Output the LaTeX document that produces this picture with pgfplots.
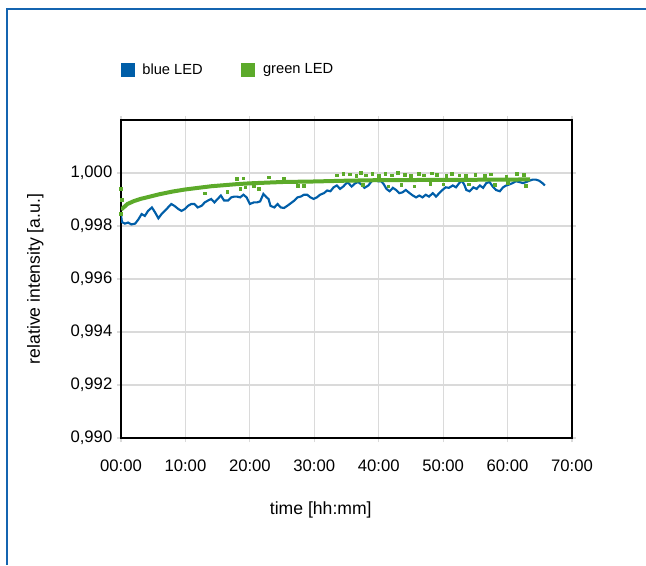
\documentclass[border=0pt]{standalone}
\usepackage{pgfplots}
\pgfplotsset{compat=1.18}
\usepackage{fontspec}
\setmainfont{Liberation Sans}
\definecolor{myblue}{RGB}{0,94,168}
\definecolor{mygreen}{RGB}{92,170,42}
\definecolor{framecol}{RGB}{20,100,176}
\definecolor{gridcol}{RGB}{218,218,218}
\begin{document}
\begin{tikzpicture}
\begin{axis}[
  at={(90.75pt,95.25pt)}, anchor=south west,
  scale only axis, width=338.25pt, height=238.5pt,
  xmin=0, xmax=70, ymin=0.990, ymax=1.002,
  xtick={0,10,20,30,40,50,60,70},
  xticklabels={00:00,10:00,20:00,30:00,40:00,50:00,60:00,70:00},
  ytick={0.990,0.992,0.994,0.996,0.998,1.000},
  scaled y ticks=false,
  yticklabel style={/pgf/number format/.cd, fixed, fixed zerofill, precision=3, use comma},
  /pgf/number format/assume math mode=true,
  tick label style={font=\fontsize{12.5}{14}\selectfont},
  xticklabel style={yshift=-10pt},
  xlabel={time [hh:mm]}, ylabel={relative intensity [a.u.]},
  label style={font=\fontsize{13.2}{16}\selectfont},
  xlabel style={at={(axis description cs:0.443,-0.225)}, anchor=center},
  ylabel style={at={(axis description cs:-0.19,0.5)}, anchor=center},
  grid=major, major grid style={gridcol, line width=0.9pt},
  tick align=outside, major tick length=3pt,
  tick style={gridcol, line width=0.9pt},
  axis line style={black, line width=1.1pt},
  legend style={draw=none, fill=none, at={(axis description cs:-0.01,1.195)}, anchor=north west,
    font=\fontsize{11}{13}\selectfont, legend columns=2,
    /tikz/every odd column/.append style={column sep=3.75pt},
    /tikz/every even column/.append style={column sep=27pt}},
  legend image code/.code={\fill[#1] (0pt,-5.25pt) rectangle (10.5pt,5.25pt);},
]
\addlegendimage{fill=myblue, draw=none}
\addlegendentry{blue LED}
\addlegendimage{fill=mygreen, draw=none}
\addlegendentry{green LED}
% blue LED
\addplot[myblue, line width=1.6pt, forget plot] coordinates {
(0,0.99842) (0.15,0.99815) (0.6,0.99809) (1.1,0.99813) (1.6,0.99806) (2.2,0.99809)
(2.7,0.99825) (3.2,0.99845) (3.7,0.99838) (4.2,0.99857) (4.8,0.99870) (5.3,0.99851)
(5.8,0.99829) (6.3,0.99845) (6.8,0.99857) (7.3,0.99870) (7.8,0.99883) (8.3,0.99876)
(8.9,0.99864) (9.4,0.99857) (9.9,0.99864) (10.4,0.99876) (10.9,0.99883) (11.4,0.99883)
(11.9,0.99870) (12.5,0.99876) (13.0,0.99889) (13.5,0.99896) (14.0,0.99902) (14.5,0.99889)
(15.0,0.99902) (15.5,0.99915) (16.0,0.99896) (16.6,0.99896) (17.1,0.99908) (17.6,0.99911)
(18.0,0.99911) (18.5,0.99908) (19.0,0.99918) (19.5,0.99908) (20.0,0.99883) (20.6,0.99889)
(21.1,0.99889) (21.6,0.99893) (22.1,0.99921) (22.6,0.99908) (22.9,0.99902) (23.2,0.99876)
(23.8,0.99870) (24.3,0.99883) (24.8,0.99870) (25.3,0.99868) (25.8,0.99876) (26.3,0.99885)
(26.9,0.99896) (27.4,0.99908) (27.9,0.99911) (28.4,0.99918) (28.9,0.99918) (29.4,0.99908)
(29.9,0.99902) (30.4,0.99908) (30.9,0.99918) (31.5,0.99924) (32.0,0.99934) (32.5,0.99931)
(33.0,0.99946) (33.5,0.99953) (34.0,0.99940) (34.5,0.99949) (35.0,0.99962) (35.3,0.99962)
(35.8,0.99949) (36.3,0.99960) (36.8,0.99966) (37.3,0.99957) (37.8,0.99944) (38.4,0.99953)
(38.9,0.99969) (39.4,0.99975) (39.9,0.99969) (40.4,0.99969) (40.8,0.99957) (41.2,0.99940)
(41.7,0.99931) (42.2,0.99944) (42.7,0.99936) (43.2,0.99924) (43.7,0.99927) (44.2,0.99936)
(44.8,0.99924) (45.3,0.99915) (45.8,0.99908) (46.3,0.99915) (46.8,0.99908) (47.3,0.99918)
(47.8,0.99911) (48.4,0.99924) (48.9,0.99911) (49.4,0.99924) (49.9,0.99936) (50.4,0.99946)
(50.9,0.99944) (51.5,0.99953) (52.0,0.99946) (52.5,0.99962) (52.9,0.99972) (53.3,0.99955)
(53.6,0.99936) (54.1,0.99931) (54.7,0.99946) (55.2,0.99940) (55.7,0.99953) (56.2,0.99944)
(56.7,0.99962) (57.2,0.99966) (57.7,0.99949) (58.2,0.99936) (58.8,0.99931) (59.3,0.99946)
(59.8,0.99953) (60.3,0.99957) (60.8,0.99962) (61.3,0.99969) (61.8,0.99966) (62.4,0.99962)
(62.9,0.99966) (63.4,0.99971) (63.9,0.99975) (64.4,0.99975) (64.9,0.99971) (65.4,0.99962)
(65.8,0.99953)
};
% green LED main trend
\addplot[mygreen, line width=3pt, forget plot] coordinates {
(0,0.99862) (0.5,0.99872) (1,0.99883) (2,0.99894) (3,0.99902) (4,0.99908) (5,0.99914)
(6,0.99920) (7,0.99925) (8,0.99930) (10,0.99938) (12,0.99944) (14,0.99950) (16,0.99954)
(18,0.99958) (20,0.99961) (22,0.99963) (25,0.99966) (30,0.99968) (35,0.99971) (40,0.99973)
(50,0.99974) (60,0.99975) (63.5,0.99976)
};
% green LED scattered points
\addplot[mygreen, only marks, mark=square*, mark size=1pt, forget plot] coordinates {
(0,0.99940) (0,0.99845) (0.1,0.99900) (13.0,0.99924) (16.5,0.99930) (18.0,0.99978) (19.0,0.99980)
(18.5,0.99940) (19.3,0.99946) (20.6,0.99953) (21.4,0.99940) (22.9,0.99984) (25.3,0.99978)
(27.4,0.99953) (28.4,0.99953) (33.5,0.99991) (34.5,0.99997)
(35.5,0.99995) (36.5,0.99990) (37.2,1.00000) (38.0,0.99992) (39.0,0.99996) (40.0,0.99990)
(41.0,0.99997) (42.0,0.99992) (43.0,1.00000) (44.0,0.99993) (45.0,0.99990) (46.2,0.99996)
(47.0,0.99992) (48.2,0.99999) (49.0,0.99993) (50.5,0.99990) (51.3,0.99996) (52.5,0.99992)
(53.5,0.99989) (55.0,0.99993) (56.5,0.99990) (57.4,0.99995) (59.8,0.99988) (61.4,0.99998)
(62.5,0.99993)
(37.5,0.99955) (41.5,0.99950) (43.5,0.99955) (45.5,0.99950) (48.0,0.99960) (50.0,0.99958)
(54.0,0.99958) (58.0,0.99955) (60.0,0.99962) (62.8,0.99953)
};
\end{axis}
\draw[framecol, line width=1.7pt] (5.25pt,416.85pt) -- (484.5pt,416.85pt);
\draw[framecol, line width=1.7pt] (5.25pt,0pt) -- (5.25pt,417.7pt);
\pgfresetboundingbox
\path[use as bounding box] (0,0) rectangle (484.5pt,423.75pt);
\end{tikzpicture}
\end{document}
